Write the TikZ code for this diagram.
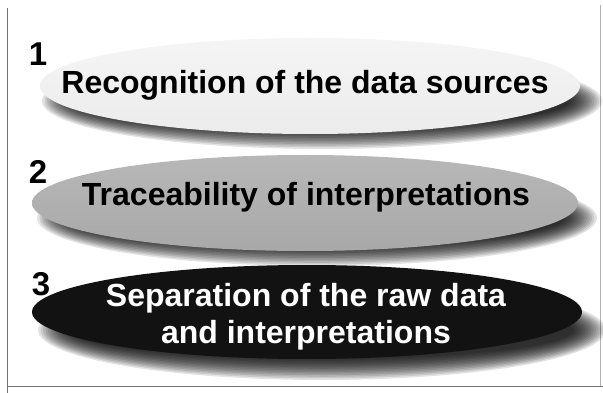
\documentclass[tikz,border=0pt]{standalone}
\usepackage{fontspec}
\setmainfont{Liberation Sans}
\begin{document}
\begin{tikzpicture}[x=1pt,y=-1pt,
  lbl/.style={font=\bfseries\fontsize{32}{37}\selectfont, inner sep=0pt, align=center},
  num/.style={font=\bfseries\fontsize{33}{36}\selectfont, inner sep=0pt},
  frameline/.style={draw=black!55, line width=1pt}]
\useasboundingbox (0,0) rectangle (603,393);
\fill[white] (0,0) rectangle (603,393);
% frame
\coordinate (fa) at (7,8);
\coordinate (fb) at (7,393);
\coordinate (fc) at (7,386);
\coordinate (fd) at (603,386);
\coordinate (fe) at (600,5);
\coordinate (ff) at (600,386);
\draw[frameline] (fa) -- (fb);
\draw[frameline] (fc) -- (fd);
\draw[draw=black!30, line width=0.6pt] (fe) -- (ff);
% shadows
\foreach \cx/\cy/\rx/\ry in {322/101/276/46, 317/218/276/46, 322/330/280/48}{
  \foreach \k in {0,...,13}{
    \fill[black, opacity=0.11] (\cx,\cy) ellipse ({\rx+4-\k*2.5pt} and {\ry+2-\k*1.6pt});
  }
}
% faces
\shade[top color=gray!8, bottom color=gray!15] (310,86) ellipse (270pt and 48pt);
\shade[top color=black!28, bottom color=black!34] (305,203) ellipse (273pt and 48pt);
\fill[black!93] (307,312) ellipse (275pt and 47pt);
% labels
\node[lbl] (t1) at (305,85) {Recognition of the data sources};
\node[lbl] (t2) at (306,197) {Traceability of interpretations};
\node[lbl, text=white] (t3) at (306,317) {Separation of the raw data\\and interpretations};
\node[num] (n1) at (38,54) {1};
\node[num] (n2) at (38,172) {2};
\node[num] (n3) at (41,284) {3};
\end{tikzpicture}
\end{document}
